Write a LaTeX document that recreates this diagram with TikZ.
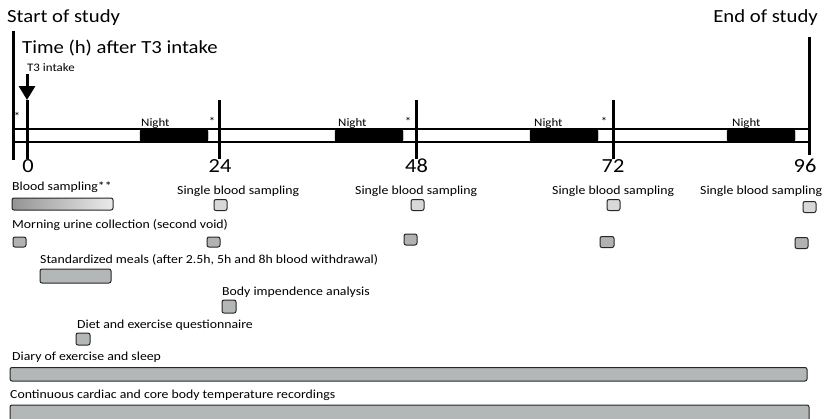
\documentclass[tikz,border=0pt]{standalone}
\usepackage{fontspec}
\setmainfont{Carlito}[FakeStretch=1.12]
\usetikzlibrary{arrows.meta}
\definecolor{boxgray}{RGB}{180,183,183}
\definecolor{singlegray}{RGB}{216,216,216}
\definecolor{urinegray}{RGB}{178,178,178}
\begin{document}
\begin{tikzpicture}[x=1pt,y=-1pt,
    lbl/.style={inner sep=0pt,anchor=base west,font=\fontsize{12.3}{14}\selectfont},
    big/.style={inner sep=0pt,anchor=base west,font=\fontsize{18.5}{21}\selectfont},
    small/.style={inner sep=0pt,anchor=base west,font=\fontsize{11.5}{13}\selectfont},
    num/.style={inner sep=0pt,anchor=base,font=\fontsize{20}{24}\selectfont},
    tickline/.style={line width=3pt},
    bandline/.style={line width=1.6pt},
    night/.style={fill=black,draw=black,rounded corners=1.5pt},
    box/.style={draw=black!85,line width=1pt,rounded corners=2pt}]
  \useasboundingbox (0,0) rectangle (825,418);
  \path
    (7,22) node[big] (start){Start of study}
    (818,22) node[big,anchor=base east] (end){End of study}
    (22,53) node[big] (time){Time (h) after T3 intake}
    (27,71) node[small] (intake){T3 intake}
    (141,126) node[small] (n1){Night}
    (338,126) node[small] (n2){Night}
    (534,126) node[small] (n3){Night}
    (732,126) node[small] (n4){Night}
    (17,120) node[small,anchor=base] (a0){*}
    (212,125) node[small,anchor=base] (a1){*}
    (408,125) node[small,anchor=base] (a2){*}
    (604,125) node[small,anchor=base] (a3){*}
    (28,172) node[num] (h0){0}
    (220,172) node[num] (h24){24}
    (416.5,172) node[num] (h48){48}
    (613,172) node[num] (h72){72}
    (805,172) node[num] (h96){96}
    (12,190) node[lbl] (blood){Blood sampling**}
    (177,194) node[lbl] (single1){Single blood sampling}
    (355,194) node[lbl] (single2){Single blood sampling}
    (552,194) node[lbl] (single3){Single blood sampling}
    (700,194) node[lbl] (single4){Single blood sampling}
    (12,228) node[lbl] (urine){Morning urine collection (second void)}
    (40,263) node[lbl] (meals){Standardized meals (after 2.5h, 5h and 8h blood withdrawal)}
    (222,295) node[lbl] (bia){Body impendence analysis}
    (77,328) node[lbl] (diet){Diet and exercise questionnaire}
    (12,360) node[lbl] (diary){Diary of exercise and sleep}
    (10,398) node[lbl] (cont){Continuous cardiac and core body temperature recordings};
  \path
    (13,129) coordinate (bl1) (809,129) coordinate (br1)
    (13,142) coordinate (bl2) (809,142) coordinate (br2)
    (13.5,31) coordinate (st) (13.5,160) coordinate (sb)
    (27,74) coordinate (ar)
    (27,100) coordinate (t0) (27,159) coordinate (b0)
    (219.5,100) coordinate (t24) (219.5,159) coordinate (b24)
    (416,100) coordinate (t48) (416,159) coordinate (b48)
    (613,100) coordinate (t72) (613,159) coordinate (b72)
    (809,37) coordinate (t96) (809,155) coordinate (b96);
  \begin{scope}[bandline]
    \draw (bl1) to (br1);
    \draw (bl2) to (br2);
  \end{scope}
  \fill[night] (140,129.5) rectangle (208,141.5);
  \fill[night] (335,129.5) rectangle (403,141.5);
  \fill[night] (530,129.5) rectangle (598,141.5);
  \fill[night] (727,129.5) rectangle (795,141.5);
  \begin{scope}[tickline]
    \draw (st) to (sb);
    \draw (t0) to (b0);
    \draw (t24) to (b24);
    \draw (t48) to (b48);
    \draw (t72) to (b72);
    \draw (t96) to (b96);
    \draw[-{Triangle[width=16pt,length=14pt]}] (ar) to (t0);
  \end{scope}
  \draw[box,left color=black!42,right color=black!8] (12,198) rectangle (113,210);
  \begin{scope}[box,fill=singlegray]
    \filldraw (214,199.5) rectangle (227,210.5);
    \filldraw (411,199.5) rectangle (424,210.5);
    \filldraw (607,199.5) rectangle (620,210.5);
    \filldraw (803,201.5) rectangle (816,212.5);
  \end{scope}
  \begin{scope}[box,fill=urinegray]
    \filldraw (13,237) rectangle (26,247);
    \filldraw (207,237) rectangle (220,247);
    \filldraw (404,234) rectangle (417,245);
    \filldraw (600,236.5) rectangle (614,247.5);
    \filldraw (795,237.5) rectangle (808,248.5);
  \end{scope}
  \begin{scope}[box,fill=boxgray]
    \filldraw (40,269) rectangle (111,283);
    \filldraw (222,300) rectangle (236,313);
    \filldraw (76,333) rectangle (90,345);
    \filldraw (10,367.5) rectangle (807,381);
    \filldraw (10,405) rectangle (809,425);
  \end{scope}
\end{tikzpicture}
\end{document}
